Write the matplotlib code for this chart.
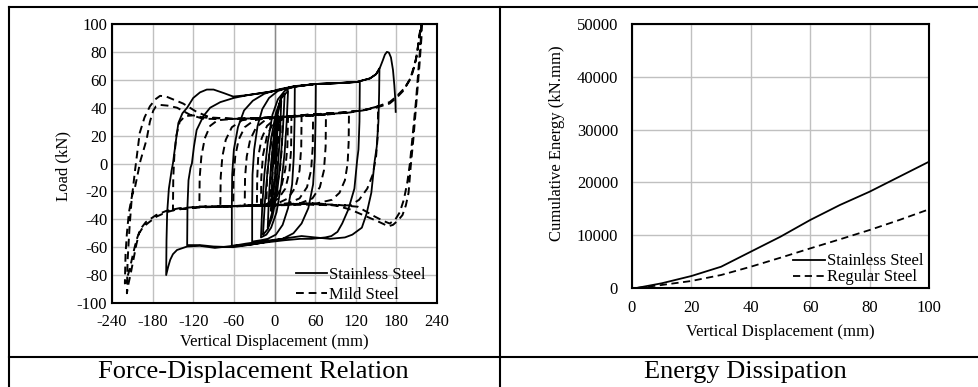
import matplotlib
matplotlib.use("Agg")
import matplotlib.pyplot as plt
from matplotlib.lines import Line2D

plt.rcParams['font.family'] = ['Liberation Serif', 'DejaVu Serif']
plt.rcParams['axes.unicode_minus'] = False

# stainless steel hysteresis, (displacement mm, load kN) in loading order
ss_curve = [
    # small cycles
    (0, 0), (2, 18), (4, 30), (5, 34), (3.5, 12), (1, -8), (-2, -22), (-4, -31), (-5, -34),
    (-3.5, -12), (-1, 8), (2, 24), (5, 36), (8, 42), (10, 45), (8, 20), (5, -2), (1, -22),
    (-4, -36), (-8, -43), (-10, -46), (-8, -22), (-5, 0), (-1, 20), (4, 36), (9, 46), (13, 49),
    (15, 50), (12.5, 25), (9, 2), (4, -20), (-3, -38), (-10, -47), (-15, -50), (-17, -51),
    (-14, -26), (-10, -4), (-5, 18), (2, 36), (10, 47), (20, 52), (18, 30), (15, 8), (10, -15),
    (3, -35), (-5, -46), (-12, -51), (-20, -53), (-18, -30), (-15, -8), (-10, 15), (-3, 35),
    (5, 46), (15, 52), (22, 54),
    # +-30 mm
    (30, 55), (29.6, 30), (28.5, 5), (26, -15), (20, -32), (12, -44), (2, -51), (-10, -54),
    (-20, -55), (-33, -56), (-33, -30), (-32.5, -8), (-30, 10), (-25, 27), (-18, 39), (-8, 47),
    (5, 52), (18, 54), (30, 55),
    # +-60 mm
    (45, 56), (61, 57), (60.6, 30), (59.5, 5), (57, -15), (50, -32), (40, -43), (28, -50),
    (12, -54), (-5, -55.5), (-20, -57), (-40, -58.5), (-63, -59), (-63, -30), (-62.5, -8),
    (-60, 10), (-54, 26), (-45, 38), (-32, 45), (-15, 50), (5, 53), (30, 55.5), (61, 57),
    # +-130 mm
    (90, 57.5), (110, 58), (126, 58.5), (125.5, 30), (124, 10), (122, 2), (118, -18),
    (109, -33), (100, -43), (93, -49), (84, -52), (75, -53), (55, -54), (38, -54), (15, -55),
    (-2, -56), (-20, -57), (-33, -58), (-61, -60), (-90, -59.5), (-110, -58.5), (-129, -58.5),
    (-128.5, -30), (-127, -12), (-124, -3), (-122, 0), (-119, 12), (-115, 24), (-105, 34),
    (-95, 40), (-80, 44), (-60, 47), (-40, 49), (-20, 50.5), (0, 52), (27, 55), (60, 57),
    (90, 57.5), (122, 58.5), (141, 61), (150, 64), (155, 68),
    # +-160 mm
    (154.5, 50), (153.5, 30), (151, 12), (148, 2), (143, -21), (136, -36), (129, -46),
    (115, -51), (104, -53), (82, -54), (60, -53), (40, -52), (11, -54), (-14, -55.5),
    (-43, -57.5), (-61, -59), (-88, -60.5), (-110, -59), (-129, -59.5), (-144, -62),
    (-150, -65), (-154, -69), (-157, -74), (-160, -80),
    # final push
    (-159.5, -55), (-158.5, -35), (-156, -18), (-152, -5), (-150, 0), (-146, 15), (-142, 29),
    (-136, 36), (-129, 40), (-120, 47), (-110, 51), (-100, 53), (-90, 53), (-75, 50.5),
    (-61, 48), (-40, 49), (-11, 51), (0, 52), (27, 55), (60, 57), (86, 57.5), (122, 58.5),
    (141, 61), (150, 64), (156, 69), (160, 74), (163, 78), (166, 80), (169, 79.5), (172, 76),
    (175, 67), (177, 56), (178.5, 45), (179, 37),
]

# mild steel hysteresis
ms_curve = [
    (0, 0), (1.5, 12), (3, 22), (4, 26), (3, 8), (1, -8), (-2, -18), (-4, -25), (-3, -8),
    (-1, 8), (2, 20), (5, 28), (7, 31), (6, 12), (3, -6), (-2, -20), (-6, -28), (-7, -29),
    (-6, -10), (-3, 8), (2, 24), (8, 31), (12, 32.5), (11, 12), (8, -5), (2, -20), (-6, -27),
    (-12, -29.5), (-11, -10), (-8, 6), (-2, 22), (6, 30), (15, 33), (20, 33.5), (19, 12),
    (16, -4), (10, -17), (2, -25), (-8, -29), (-20, -30), (-19.5, -10), (-17, 6), (-11, 20),
    (-3, 28), (8, 32), (20, 33.5),
    # +-25 mm
    (25, 33.5), (24.5, 10), (22, -6), (16, -18), (6, -25), (-8, -29), (-26, -30),
    (-25.5, -10), (-24, 5), (-19, 18), (-11, 27), (0, 31.5), (12, 33), (25, 33.5),
    # +-40 mm
    (40, 34), (39.5, 12), (37, -5), (31, -17), (20, -25), (5, -28.5), (-15, -29.5), (-30, -30),
    (-44, -30.5), (-43.5, -10), (-41, 5), (-36, 17), (-27, 26), (-14, 31), (2, 33), (20, 33.5),
    (40, 34),
    # +-60 mm
    (57, 34.5), (56.5, 12), (54, -5), (48, -17), (37, -25), (20, -28.5), (0, -29.5), (-30, -30),
    (-61, -30.5), (-60.5, -10), (-58, 5), (-53, 17), (-44, 26), (-30, 31), (-10, 32.5),
    (20, 33.5), (57, 34.5),
    # +-80 mm
    (76, 35), (75.5, 12), (73, -5), (67, -17), (56, -25), (38, -28.5), (10, -29.5), (-30, -30),
    (-60, -30.5), (-80, -31), (-79.5, -10), (-77, 5), (-72, 17), (-63, 26), (-48, 31),
    (-25, 32.5), (10, 33.5), (45, 34.5), (76, 35),
    # +-110 mm
    (95, 36), (110, 36.5), (109.5, 15), (108, 0), (104, -12), (96, -21), (85, -26), (63, -28.5),
    (30, -29), (0, -30), (-40, -30.5), (-80, -31), (-111, -31), (-110.5, -10), (-108, 5),
    (-103, 18), (-95, 27), (-84, 31), (-60, 32), (-20, 32.5), (30, 34), (80, 35.5), (110, 36.5),
    # +-150 mm
    (130, 38), (153, 41), (152.5, 20), (150, 5), (145, -8), (137, -18), (125, -26), (112, -30),
    (90, -30), (50, -29.5), (0, -30), (-50, -30.5), (-110, -31.5), (-135, -32.5), (-150, -33.5),
    (-149.5, -10), (-148, 5), (-145, 20), (-140, 30), (-132, 34), (-120, 34.5), (-105, 33),
    (-90, 32.5), (-60, 32), (0, 33), (50, 35), (100, 36.5), (130, 38), (150, 40), (170, 43),
    (180, 47),
    # +-220 mm, first cycle
    (190, 52), (200, 60), (205, 68), (210, 77), (213, 88), (216, 98), (218, 104),
    (217, 90), (214, 70), (212, 58), (208, 35), (205, 17), (201, -3), (198, -21), (194, -30),
    (189, -37), (182, -41), (175, -44), (168, -45), (155, -42), (136, -38), (112, -33),
    (90, -30), (63, -28.5), (30, -29), (0, -30), (-60, -30.5), (-110, -31), (-145, -33),
    (-160, -35), (-174, -38), (-185, -42), (-194, -45.5), (-200, -50), (-204, -58),
    (-208, -68), (-212, -78), (-216, -87), (-218, -93),
    (-217, -70), (-214, -45), (-211, -26), (-206, -5), (-199, 22), (-192, 33), (-184, 41),
    (-176, 46), (-169, 48.5), (-160, 48), (-150, 46), (-135, 43), (-115, 37), (-95, 33),
    (-60, 32), (0, 33), (50, 35), (100, 36.5), (130, 38), (150, 40.5), (170, 44), (180, 48),
    (192, 54), (202, 62), (208, 72), (212, 84), (215, 95), (217, 104),
    # second cycle
    (216, 88), (213, 70), (209, 45), (204, 20), (200, 0), (196, -14), (191, -26), (185, -35),
    (178, -40.5), (170, -43), (160, -41), (148, -38), (123, -31), (90, -29.5), (40, -29),
    (0, -30), (-60, -30.5), (-110, -31), (-140, -32), (-160, -34), (-175, -37), (-190, -42),
    (-198, -47), (-204, -55), (-209, -65), (-214, -76), (-219, -84), (-221, -86),
    (-220, -65), (-218, -50), (-215, -35), (-210, -22), (-206, -17), (-198, 2), (-189, 17),
    (-184, 30), (-179, 38), (-175, 41), (-169, 42), (-158, 41.5), (-144, 40), (-125, 35),
    (-105, 32), (-80, 32),
]

ss_disp = [p[0] for p in ss_curve]
ss_load = [p[1] for p in ss_curve]
ms_disp = [p[0] for p in ms_curve]
ms_load = [p[1] for p in ms_curve]

# cumulative dissipated energy
energy_disp = [1.5, 10, 20, 30, 40, 50, 60, 70, 80, 90, 100]
energy_stainless = [0, 890, 2270, 4030, 6880, 9720, 12880, 15720, 18240, 21080, 23920]
energy_regular = [0, 570, 1330, 2460, 4030, 5740, 7500, 9220, 10980, 12880, 14900]

W, H = 979, 387
fig = plt.figure(figsize=(W / 100, H / 100), dpi=100)

grid_col = '#c0c0c0'
fs = 12


def style(ax, xpad, ypad):
    ax.grid(True, color=grid_col, lw=1)
    ax.set_axisbelow(True)
    ax.tick_params(length=0, labelsize=fs)
    ax.tick_params(axis='x', pad=xpad)
    ax.tick_params(axis='y', pad=ypad)
    for s in ax.spines.values():
        s.set_linewidth(1.5)
        s.set_color('black')


# load-displacement loops
ax1 = fig.add_axes([112 / W, 1 - 303 / H, 325 / W, 279 / H])
ax1.axvline(0, color='#8a8a8a', lw=1, zorder=1)
ax1.plot(ss_disp, ss_load, color='black', lw=1.3, label='Stainless Steel')
ax1.plot(ms_disp, ms_load, color='black', lw=1.4, dashes=(4, 2.5), label='Mild Steel')
ax1.set_xlim(-240, 240)
ax1.set_ylim(-100, 100)
ax1.set_xticks(range(-240, 241, 60))
ax1.set_yticks(range(-100, 101, 20))
style(ax1, 8, 3.5)
ax1.set_xlabel('Vertical Displacement (mm)', fontsize=fs, va='center')
ax1.xaxis.set_label_coords(0.5, -(342 - 303) / 279)
ax1.set_ylabel('Load (kN)', fontsize=fs, va='center')
ax1.yaxis.set_label_coords(-(112 - 63) / 325, 0.49)
ax1.legend(loc='lower right', bbox_to_anchor=(0.965, 0.0), frameon=False, fontsize=fs,
           handlelength=1.9, handletextpad=0.1, labelspacing=0.25, borderpad=0,
           borderaxespad=0)

# energy curves
ax2 = fig.add_axes([632 / W, 1 - 288 / H, 297 / W, 264 / H])
ax2.plot(energy_disp, energy_stainless, color='black', lw=1.3, label='Stainless Steel')
ax2.plot(energy_disp, energy_regular, color='black', lw=1.3, dashes=(4, 2.5),
         label='Regular Steel')
ax2.set_xlim(0, 100)
ax2.set_ylim(0, 50000)
ax2.set_xticks(range(0, 101, 20))
ax2.set_yticks(range(0, 50001, 10000))
style(ax2, 9, 10)
ax2.set_xlabel('Vertical Displacement (mm)', fontsize=fs, va='center')
ax2.xaxis.set_label_coords(0.5, -(332 - 288) / 264)
ax2.set_ylabel('Cumulative Energy (kN.mm)', fontsize=fs, va='center')
ax2.yaxis.set_label_coords(-(632 - 557) / 297, 0.55)
ax2.legend(loc='lower right', bbox_to_anchor=(0.98, 0.01), frameon=False, fontsize=fs,
           handlelength=1.9, handletextpad=0.1, labelspacing=0.0, borderpad=0,
           borderaxespad=0)

# table frame around the two panels
for xs, ys in [([9, W], [7, 7]), ([9, W], [357, 357]), ([9, 9], [7, H]), ([500, 500], [7, H])]:
    fig.add_artist(Line2D([x / W for x in xs], [1 - y / H for y in ys],
                          transform=fig.transFigure, color='black', lw=1.5))

fig.text(253 / W, 1 - 372 / H, 'Force-Displacement Relation', ha='center', va='center',
         fontsize=19)
fig.text(745 / W, 1 - 372 / H, 'Energy Dissipation', ha='center', va='center', fontsize=19)

fig.savefig('out.png', dpi=100)
